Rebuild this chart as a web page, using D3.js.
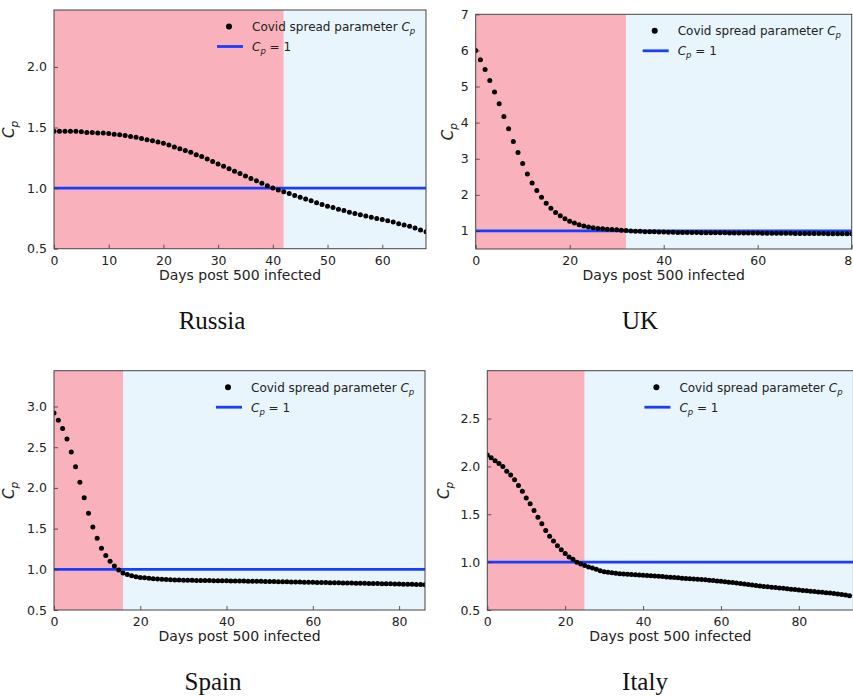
<!DOCTYPE html>
<html>
<head>
<meta charset="utf-8">
<script src="https://cdn.jsdelivr.net/npm/d3@7"></script>
<style>
  html, body { margin: 0; padding: 0; background: #fff; }
  svg { display: block; }
</style>
</head>
<body>
<svg id="chart" width="853" height="696"></svg>
<script>
// ---------------- DATA ----------------
const countries = ["Russia", "UK", "Spain", "Italy"];

// Covid spread parameter Cp, one value per day post 500 infected (day 0, 1, 2, ...)
const russiaCp = [
  1.47, 1.47, 1.47, 1.47, 1.47, 1.465, 1.46, 1.46, 1.455, 1.455,
  1.45, 1.445, 1.44, 1.435, 1.425, 1.42, 1.41, 1.40, 1.39, 1.38,
  1.37, 1.355, 1.34, 1.325, 1.31, 1.295, 1.275, 1.26, 1.24, 1.22,
  1.20, 1.18, 1.16, 1.14, 1.12, 1.10, 1.08, 1.06, 1.04, 1.02,
  1.00, 0.985, 0.97, 0.955, 0.94, 0.925, 0.91, 0.895, 0.88, 0.865,
  0.85, 0.84, 0.825, 0.815, 0.80, 0.79, 0.78, 0.77, 0.76, 0.75,
  0.74, 0.73, 0.72, 0.705, 0.695, 0.685, 0.67, 0.655, 0.64
];
const ukCp = [
  6.00, 5.74, 5.47, 5.17, 4.85, 4.52, 4.17, 3.83, 3.48, 3.17,
  2.87, 2.58, 2.33, 2.12, 1.93, 1.77, 1.63, 1.51, 1.42, 1.34,
  1.27, 1.22, 1.17, 1.14, 1.11, 1.09, 1.07, 1.06, 1.05, 1.04,
  1.03, 1.02, 1.01, 1.00, 0.99, 0.99, 0.98, 0.98, 0.975, 0.97,
  0.97, 0.965, 0.965, 0.96, 0.96, 0.958, 0.956, 0.955, 0.953, 0.952,
  0.95, 0.949, 0.948, 0.947, 0.946, 0.945, 0.944, 0.943, 0.942, 0.941,
  0.94, 0.939, 0.938, 0.937, 0.936, 0.935, 0.934, 0.933, 0.932, 0.931,
  0.93, 0.929, 0.928, 0.927, 0.926, 0.925, 0.924, 0.923, 0.922, 0.921,
  0.92
];
const spainCp = [
  2.92, 2.83, 2.73, 2.60, 2.44, 2.26, 2.07, 1.88, 1.69, 1.52,
  1.38, 1.26, 1.17, 1.10, 1.04, 0.99, 0.955, 0.935, 0.92, 0.91,
  0.90, 0.895, 0.89, 0.885, 0.88, 0.878, 0.875, 0.873, 0.87, 0.868,
  0.866, 0.865, 0.864, 0.863, 0.862, 0.861, 0.861, 0.860, 0.859, 0.859,
  0.858, 0.857, 0.857, 0.856, 0.855, 0.854, 0.853, 0.853, 0.852, 0.851,
  0.850, 0.849, 0.848, 0.847, 0.846, 0.845, 0.844, 0.843, 0.842, 0.841,
  0.840, 0.839, 0.838, 0.837, 0.836, 0.835, 0.834, 0.833, 0.832, 0.831,
  0.830, 0.829, 0.828, 0.827, 0.826, 0.825, 0.823, 0.822, 0.821, 0.820,
  0.818, 0.817, 0.816, 0.815, 0.813, 0.812, 0.810
];
const italyCp = [
  2.12, 2.09, 2.06, 2.03, 2.00, 1.95, 1.91, 1.86, 1.80, 1.74,
  1.67, 1.61, 1.54, 1.47, 1.40, 1.33, 1.27, 1.22, 1.17, 1.13,
  1.09, 1.055, 1.03, 1.00, 0.98, 0.965, 0.95, 0.94, 0.925, 0.91,
  0.90, 0.895, 0.89, 0.885, 0.88, 0.877, 0.874, 0.871, 0.868, 0.866,
  0.864, 0.861, 0.858, 0.855, 0.852, 0.849, 0.846, 0.843, 0.839, 0.836,
  0.833, 0.830, 0.827, 0.824, 0.821, 0.818, 0.815, 0.811, 0.808, 0.804,
  0.800, 0.796, 0.791, 0.786, 0.781, 0.776, 0.771, 0.766, 0.761, 0.756,
  0.750, 0.746, 0.742, 0.738, 0.734, 0.730, 0.726, 0.722, 0.718, 0.714,
  0.710, 0.705, 0.701, 0.697, 0.693, 0.689, 0.685, 0.681, 0.677, 0.672,
  0.667, 0.662, 0.656, 0.650
];

// Axis ranges, day when Cp crossed 1 (end of red zone), tick labels
const xMaxes   = [68, 80, 86, 94];
const yMins    = [0.5, 0.5, 0.5, 0.5];
const yMaxes   = [2.47, 7, 3.44, 3.0];
const redEnds  = [42, 32, 16, 25];
const xTicksAll = [
  [0, 10, 20, 30, 40, 50, 60],
  [0, 20, 40, 60, 80],
  [0, 20, 40, 60, 80],
  [0, 20, 40, 60, 80]
];
const yTicksAll = [
  ["0.5", "1.0", "1.5", "2.0"],
  ["1", "2", "3", "4", "5", "6", "7"],
  ["0.5", "1.0", "1.5", "2.0", "2.5", "3.0"],
  ["0.5", "1.0", "1.5", "2.0", "2.5"]
];
const threshold = 1;
const xLabel = "Days post 500 infected";
const legendDotLabel = "Covid spread parameter ";
const seriesAll = [russiaCp, ukCp, spainCp, italyCp];

// ---------------- LAYOUT ----------------
const boxes = [
  {l: 54,    r: 426,   t: 10,    b: 248.7, title: [212, 329]},
  {l: 475.7, r: 851.7, t: 14.3,  b: 249,   title: [640, 329]},
  {l: 54,    r: 425,   t: 370.7, b: 610,   title: [213, 690]},
  {l: 487.3, r: 853.4, t: 370.7, b: 610,   title: [645, 690]}
];
const yLabelOffsets = [40, 23, 40, 38];

const COL_RED = "#f9b1bc";
const COL_BLUE_BG = "#e8f5fd";
const COL_LINE = "#1a3dff";
const FONT = "'DejaVu Sans', sans-serif";

const svg = d3.select("#chart");

countries.forEach((name, i) => {
  const box = boxes[i];
  const data = seriesAll[i];
  const x = d3.scaleLinear().domain([0, xMaxes[i]]).range([box.l, box.r]);
  const y = d3.scaleLinear().domain([yMins[i], yMaxes[i]]).range([box.b, box.t]);
  const g = svg.append("g");

  const clipId = "clip" + i;
  svg.append("clipPath").attr("id", clipId)
    .append("rect").attr("x", box.l).attr("y", box.t)
    .attr("width", box.r - box.l).attr("height", box.b - box.t);

  const plot = g.append("g").attr("clip-path", `url(#${clipId})`);
  // background zones
  plot.append("rect").attr("x", x(0)).attr("y", box.t)
    .attr("width", x(redEnds[i]) - x(0)).attr("height", box.b - box.t)
    .attr("fill", COL_RED);
  plot.append("rect").attr("x", x(redEnds[i])).attr("y", box.t)
    .attr("width", x(xMaxes[i]) - x(redEnds[i])).attr("height", box.b - box.t)
    .attr("fill", COL_BLUE_BG);

  // threshold line
  plot.append("line")
    .attr("x1", x(0)).attr("x2", x(xMaxes[i]))
    .attr("y1", y(threshold)).attr("y2", y(threshold))
    .attr("stroke", COL_LINE).attr("stroke-width", 2.8);

  // dots
  plot.selectAll("circle.pt").data(data).enter().append("circle")
    .attr("class", "pt")
    .attr("cx", (d, k) => x(k))
    .attr("cy", d => y(d))
    .attr("r", 2.5)
    .attr("fill", "#000");

  // axes (inward ticks)
  const xAxis = d3.axisBottom(x).tickValues(xTicksAll[i]).tickSizeInner(-4).tickSizeOuter(0).tickPadding(7).tickFormat(d3.format("d"));
  const gx = g.append("g").attr("transform", `translate(0,${box.b})`).call(xAxis);
  const yAxis = d3.axisLeft(y).tickValues(yTicksAll[i].map(Number)).tickSizeInner(-4).tickSizeOuter(0).tickPadding(7)
    .tickFormat((d, k) => yTicksAll[i][k]);
  const gy = g.append("g").attr("transform", `translate(${box.l},0)`).call(yAxis);
  [gx, gy].forEach(ax => {
    ax.select(".domain").remove();
    ax.selectAll(".tick line").attr("stroke", "#333").attr("stroke-width", 0.8);
    ax.selectAll(".tick text").attr("fill", "#222").style("font-family", FONT).style("font-size", "12.5px");
  });

  // frame
  g.append("rect").attr("x", box.l).attr("y", box.t)
    .attr("width", box.r - box.l).attr("height", box.b - box.t)
    .attr("fill", "none").attr("stroke", "#444").attr("stroke-width", 1);

  // x label
  g.append("text").attr("x", (box.l + box.r) / 2).attr("y", box.b + 31)
    .attr("text-anchor", "middle").attr("fill", "#222")
    .style("font-family", FONT).style("font-size", "14px").text(xLabel);

  // y label C_p
  const yl = g.append("text")
    .attr("transform", `translate(${box.l - yLabelOffsets[i]},${(box.t + box.b) / 2}) rotate(-90)`)
    .attr("text-anchor", "middle").attr("fill", "#222")
    .style("font-family", FONT).style("font-size", "15px");
  yl.append("tspan").style("font-style", "italic").text("C");
  yl.append("tspan").style("font-style", "italic").style("font-size", "10.5px").attr("dy", 4).text("p");

  // legend
  const lx = box.r - 197;
  const ly1 = box.t + 16.5;
  const ly2 = box.t + 36.5;
  g.append("circle").attr("cx", lx).attr("cy", ly1).attr("r", 3).attr("fill", "#000");
  const t1 = g.append("text").attr("x", lx + 23).attr("y", ly1 + 4.5).attr("fill", "#222")
    .style("font-family", FONT).style("font-size", "12px");
  t1.append("tspan").text(legendDotLabel);
  t1.append("tspan").style("font-style", "italic").text("C");
  t1.append("tspan").style("font-style", "italic").style("font-size", "8.5px").attr("dy", 3).text("p");
  g.append("line").attr("x1", lx - 12).attr("x2", lx + 14).attr("y1", ly2).attr("y2", ly2)
    .attr("stroke", COL_LINE).attr("stroke-width", 2.8);
  const t2 = g.append("text").attr("x", lx + 23).attr("y", ly2 + 4.5).attr("fill", "#222")
    .style("font-family", FONT).style("font-size", "12px");
  t2.append("tspan").style("font-style", "italic").text("C");
  t2.append("tspan").style("font-style", "italic").style("font-size", "8.5px").attr("dy", 3).text("p");
  t2.append("tspan").attr("dy", -3).text(" = " + threshold);

  // country title
  svg.append("text").attr("x", box.title[0]).attr("y", box.title[1])
    .attr("text-anchor", "middle").attr("fill", "#111")
    .style("font-family", "'Liberation Serif', 'DejaVu Serif', serif").style("font-size", "25px")
    .text(name);
});
</script>
</body>
</html>
